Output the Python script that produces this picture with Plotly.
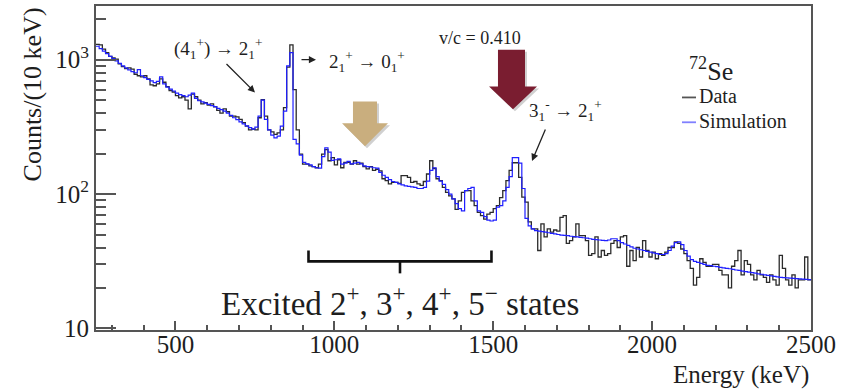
import plotly.graph_objects as go

# ---------------- data (10 keV bins, lower edges from 250 keV) ----------------
e_start = 250
bin_width = 10

sim_counts = [
    1260, 1210, 1160, 1110, 1060, 1020, 980, 940, 900, 870,        # 250-340
    840, 815, 800, 845, 760, 735, 715, 695, 675, 690,              # 350-440
    745, 660, 625, 605, 585, 565, 550, 540, 530, 545,              # 450-540
    565, 515, 495, 485, 475, 465, 455, 448, 435, 425,              # 550-640
    414, 400, 385, 370, 358, 345, 333, 322, 312, 304,              # 650-740
    315, 380, 500, 360, 300, 275, 262, 270, 320, 414,              # 750-840
    900, 1130, 255, 236, 195, 172, 168, 165, 160, 157,             # 850-940
    156, 190, 221, 205, 178, 180, 183, 167, 170, 175,              # 950-1040
    168, 170, 172, 168, 162, 160, 159, 157, 156, 145,              # 1050-1140
    138, 133, 128, 124, 122, 119, 117, 115, 114, 113,              # 1150-1240
    112, 110, 110, 112, 125, 150, 157, 135, 125, 118,              # 1250-1340
    108, 100, 92, 85, 78, 75, 106, 110, 112, 89,                   # 1350-1440
    75, 73, 68, 64, 63, 64, 80, 82, 89, 112,                       # 1450-1540
    135, 187, 187, 170, 110, 66, 58, 55, 53.5, 53,                 # 1550-1640
    52.5, 52, 51.5, 51, 50.5, 50, 49.5, 49.2, 49, 48.5,            # 1650-1740
    48.2, 48, 47.6, 47.3, 47, 46.5, 46, 45.8, 45.5, 45.2,          # 1750-1840
    45, 45.5, 46.5, 46.5, 45, 43.5, 42.5, 41.5, 40.5, 39.5,        # 1850-1940
    39, 38.5, 38, 37.5, 37, 36.5, 36, 35.5, 35.5, 36,              # 1950-2040
    38, 41, 43.5, 44, 42, 38, 34.5, 32.5, 31.5, 31,                # 2050-2140
    30.5, 30, 29.5, 29.3, 29, 28.8, 28.5, 28.2, 28, 27.8,          # 2150-2240
    27.5, 27.2, 27, 26.7, 26.5, 26.2, 26, 25.8, 25.5, 25.3,        # 2250-2340
    25, 24.8, 24.6, 24.4, 24.2, 24, 23.9, 23.8, 23.7, 23.6,        # 2350-2440
    23.5, 23.4, 23.3, 23.2, 23.1,                                  # 2450-2490
]

data_counts = [
    1300, 1290, 1200, 1130, 1060, 1030, 1010, 930, 890, 860,       # 250-340
    870, 850, 780, 760, 745, 760, 720, 650, 640, 660,              # 350-440
    720, 680, 630, 590, 575, 540, 520, 530, 500, 430,              # 450-540
    555, 530, 500, 470, 480, 460, 470, 445, 420, 400,              # 550-640
    430, 410, 380, 380, 375, 360, 340, 320, 300, 305,              # 650-740
    300, 370, 505, 380, 300, 290, 278, 285, 300, 440,              # 750-840
    880, 1290, 600, 300, 198, 167, 167, 162, 160, 157,             # 850-940
    167, 198, 214, 177, 187, 165, 180, 157, 172, 172,              # 950-1040
    167, 177, 167, 170, 160, 154, 160, 150, 153, 149,              # 1050-1140
    130, 126, 119, 122, 122, 120, 137, 137, 133, 122,              # 1150-1240
    124, 119, 116, 124, 141, 177, 155, 130, 126, 112,              # 1250-1340
    103, 97, 92, 77, 89, 103, 106, 106, 89, 82,                    # 1350-1440
    73, 69, 65, 71, 73, 78, 82, 94, 106, 126,                      # 1450-1540
    150, 171, 171, 133, 95, 87, 62, 55, 55, 38,                    # 1550-1640
    60, 48, 55, 52, 54, 53, 67, 69, 43, 45,                        # 1650-1740
    48, 60, 49, 49, 45, 35, 36, 48, 34, 38,                        # 1750-1840
    35, 36, 43, 45, 40, 48, 49, 29, 38, 32,                        # 1850-1940
    40, 34, 45, 38, 34, 37, 33, 36, 35, 37,                        # 1950-2040
    40, 40, 44, 43, 39, 36, 32, 28, 21, 24,                        # 2050-2140
    33, 31, 29, 29, 30, 30, 27, 25, 25, 20,                        # 2150-2240
    29, 32, 38, 25, 32, 30, 25, 23, 27, 25,                        # 2250-2340
    24, 22, 25, 23, 21, 35, 28, 23, 21, 25,                        # 2350-2440
    20, 23, 23, 34, 23,                                            # 2450-2490
]

x_tick_vals = [500, 1000, 1500, 2000, 2500]
x_minor_vals = [300, 400, 600, 700, 800, 900, 1100, 1200, 1300, 1400, 1600, 1700,
                1800, 1900, 2100, 2200, 2300, 2400]
y_tick_vals = [10, 100, 1000]
y_tick_text = ["10", "10<sup>2</sup>", "10<sup>3</sup>"]
y_minor_vals = [20, 30, 40, 50, 60, 70, 80, 90, 200, 300, 400, 500, 600, 700, 800, 900, 2000]

edges = [e_start + bin_width * i for i in range(len(sim_counts) + 1)]

# ---------------- layout geometry helpers (pixel -> paper) ----------------
W, H = 850, 391
L_M, R_M, T_M, B_M = 96, 39, 4, 61
PW = W - L_M - R_M
PH = H - T_M - B_M


def px(x):
    return (x - L_M) / PW


def py(y):
    return (H - B_M - y) / PH


def path(points):
    s = "M " + " L ".join(f"{px(a):.4f},{py(b):.4f}" for a, b in points) + " Z"
    return s


FONT = "Liberation Serif"
TXT = "#1e1e1e"

fig = go.Figure()
fig.add_trace(go.Scatter(
    x=edges, y=data_counts + [data_counts[-1]], mode="lines",
    line=dict(shape="hv", color="#2b2b2b", width=1.3), name="Data",
    showlegend=False, hoverinfo="skip"))
fig.add_trace(go.Scatter(
    x=edges, y=sim_counts + [sim_counts[-1]], mode="lines",
    line=dict(shape="hv", color="#1f1fff", width=1.2), name="Simulation",
    showlegend=False, hoverinfo="skip"))

axis_common = dict(showgrid=False, zeroline=False, showline=True, linecolor="#555",
                   linewidth=2, mirror=True, ticks="inside", tickcolor="#555",
                   tickfont=dict(family=FONT, size=25, color=TXT))

fig.update_xaxes(range=[250, 2500], tickmode="array", tickvals=x_tick_vals,
                 ticklen=9, tickwidth=1.5, ticklabelstandoff=-9,
                 minor=dict(tickmode="array", tickvals=x_minor_vals, ticklen=5,
                            tickwidth=1.5, tickcolor="#555", ticks="inside"),
                 **axis_common)
fig.update_yaxes(type="log", range=[0.988, 3.4], tickmode="array", tickvals=y_tick_vals,
                 ticktext=y_tick_text, ticklen=20, tickwidth=1.5,
                 minor=dict(tickmode="array", tickvals=y_minor_vals, ticklen=10,
                            tickwidth=1.5, tickcolor="#555", ticks="inside"),
                 **axis_common)

shapes = []
# tan arrow with soft shadow
tan_pts = [(353, 100), (377, 100), (377, 122), (388, 122), (365, 145), (342, 122), (353, 122)]
shadow = [(a + 2, b + 2) for a, b in tan_pts]
shapes.append(dict(type="path", xref="paper", yref="paper", path=path(shadow),
                   fillcolor="rgba(120,120,120,0.35)", line=dict(width=0)))
shapes.append(dict(type="path", xref="paper", yref="paper", path=path(tan_pts),
                   fillcolor="#c9ae7e", line=dict(width=0)))
# dark red arrow
red_pts = [(498, 48), (525, 48), (525, 85), (537, 85), (513, 108), (489, 85), (498, 85)]
shadow2 = [(a + 2, b + 2) for a, b in red_pts]
shapes.append(dict(type="path", xref="paper", yref="paper", path=path(shadow2),
                   fillcolor="rgba(120,120,120,0.35)", line=dict(width=0)))
shapes.append(dict(type="path", xref="paper", yref="paper", path=path(red_pts),
                   fillcolor="#7a1d30", line=dict(width=0)))
# bracket
br = "M {} L {} L {} L {}".format(
    f"{px(308.5):.4f},{py(250):.4f}", f"{px(308.5):.4f},{py(261):.4f}",
    f"{px(491.5):.4f},{py(261):.4f}", f"{px(491.5):.4f},{py(250):.4f}")
shapes.append(dict(type="path", xref="paper", yref="paper", path=br,
                   line=dict(color="#111", width=2.6)))
shapes.append(dict(type="line", xref="paper", yref="paper", x0=px(400), x1=px(400),
                   y0=py(261), y1=py(273), line=dict(color="#111", width=2.6)))
# legend sample lines
shapes.append(dict(type="line", xref="paper", yref="paper", x0=px(682), x1=px(696),
                   y0=py(96), y1=py(96), line=dict(color="#555", width=1.8)))
shapes.append(dict(type="line", xref="paper", yref="paper", x0=px(682), x1=px(696),
                   y0=py(121), y1=py(121), line=dict(color="#8080ff", width=1.8)))

ann = []


def text(x, y, s, size, xanchor="left", yanchor="middle", angle=0, color=TXT):
    ann.append(dict(xref="paper", yref="paper", x=px(x), y=py(y), text=s,
                    showarrow=False, xanchor=xanchor, yanchor=yanchor, textangle=angle,
                    font=dict(family=FONT, size=size, color=color)))


def arrow(x_head, y_head, dx, dy):
    ann.append(dict(xref="paper", yref="paper", x=px(x_head), y=py(y_head), text="",
                    showarrow=True, ax=dx, ay=dy, arrowhead=2, arrowsize=1.1,
                    arrowwidth=1.3, arrowcolor="#222"))


text(218, 47, "(4<sub>1</sub><sup>+</sup>) → 2<sub>1</sub><sup>+</sup>", 19, "center")
arrow(255, 91, -30, -30)
arrow(316, 58, -16, 0)
text(327, 60, "2<sub>1</sub><sup>+</sup> → 0<sub>1</sub><sup>+</sup>", 19)
text(480, 36, "v/c = 0.410", 18, "center")
text(527, 109, "3<sub>1</sub><sup>-</sup> → 2<sub>1</sub><sup>+</sup>", 19)
arrow(532, 160, 14, -33)
text(687, 68, "<sup>72</sup>Se", 26)
text(697, 95, "Data", 20)
text(697, 120, "Simulation", 20)
text(400, 301, "Excited 2<sup>+</sup>, 3<sup>+</sup>, 4<sup>+</sup>, 5<sup>−</sup> states", 33, "center")
text(32, 93, "Counts/(10 keV)", 26, "center", "middle", angle=-90)
text(811, 375, "Energy (keV)", 25, "right")

fig.update_layout(width=W, height=H, margin=dict(l=L_M, r=R_M, t=T_M, b=B_M),
                  plot_bgcolor="white", paper_bgcolor="white",
                  shapes=shapes, annotations=ann, showlegend=False)

fig.write_html("out.html")
